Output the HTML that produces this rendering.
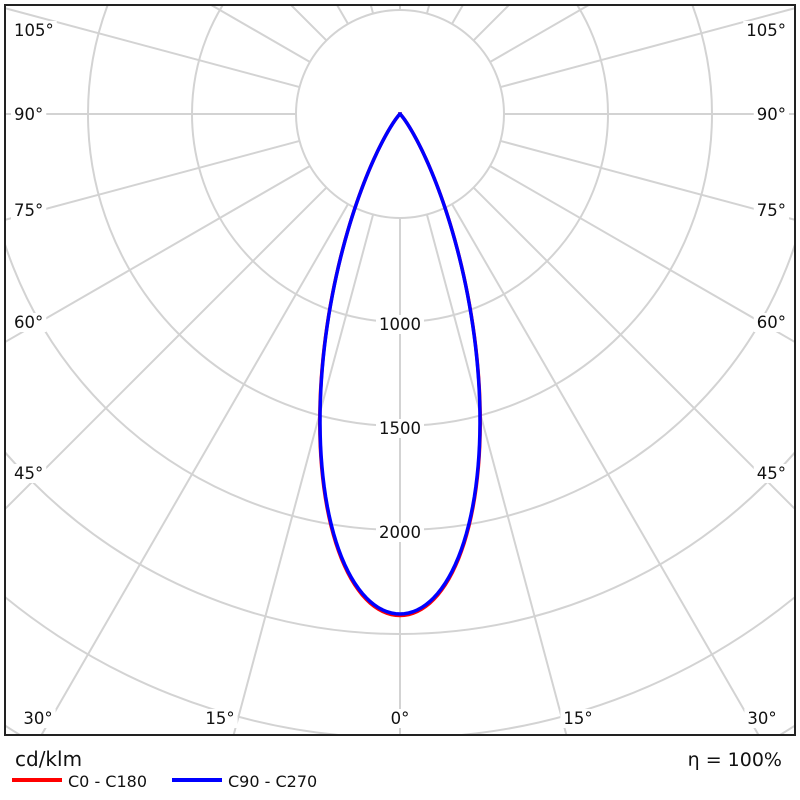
<!DOCTYPE html>
<html><head><meta charset="utf-8"><style>
html,body{margin:0;padding:0;background:#fff;width:800px;height:800px;overflow:hidden}
svg{display:block}
svg text{font-family:"DejaVu Sans","Liberation Sans",sans-serif;}
</style></head><body>
<svg id="s" width="800" height="800" xmlns="http://www.w3.org/2000/svg">
<defs><clipPath id="c"><rect x="6" y="6" width="788" height="728"/></clipPath></defs>
<g id="grid" clip-path="url(#c)" stroke="#d3d3d3" stroke-width="2" fill="none"></g>
<g id="curves" clip-path="url(#c)" fill="none" stroke-width="3.5"></g>
<g id="labels" font-size="16.5" fill="#111"></g>
<rect x="5" y="5" width="790" height="730" fill="none" stroke="#222" stroke-width="2"/>
<text x="15" y="766" font-size="20" fill="#111">cd/klm</text>
<line x1="12" y1="780" x2="62" y2="780" stroke="#f00" stroke-width="4"/>
<text x="68" y="787" font-size="16" fill="#111">C0 - C180</text>
<line x1="172" y1="780" x2="222" y2="780" stroke="#00f" stroke-width="4"/>
<text x="228" y="787" font-size="16" fill="#111">C90 - C270</text>
<text x="782" y="766" font-size="19" fill="#111" text-anchor="end">η = 100%</text>
</svg>
<script>
var NS="http://www.w3.org/2000/svg",cx=400,cy=114,u=104;
function el(p,t,a){var e=document.createElementNS(NS,t);for(var k in a)e.setAttribute(k,a[k]);p.appendChild(e);return e;}
var g=document.getElementById('grid');
for(var i=1;i<=8;i++)el(g,'circle',{cx:cx,cy:cy,r:u*i});
for(var a=-180;a<=180;a+=15){var t=a*Math.PI/180;
 el(g,'line',{x1:cx+u*Math.sin(t),y1:cy+u*Math.cos(t),x2:cx+1200*Math.sin(t),y2:cy+1200*Math.cos(t)});}
function rr(th){var c=Math.cos(th*Math.PI/180);var n=12.1+0.12*th;return 500*Math.pow(c,n);}
function path(s){var d="";for(var th=-90;th<=90;th+=0.5){var R=rr(Math.abs(th))*s;var t=th*Math.PI/180;d+=(d?"L":"M")+(cx+R*Math.sin(t)).toFixed(2)+","+(cy+R*Math.cos(t)).toFixed(2);}return d;}
var cg=document.getElementById('curves');
el(cg,'path',{d:path(1.003),stroke:'#f00'});
el(cg,'path',{d:path(1),stroke:'#00f'});
var L=document.getElementById('labels');
function lab(x,y,s,anc){var t=el(L,'text',{x:x,y:y,'text-anchor':anc||'start'});t.textContent=s;
 var b=t.getBBox();var r=document.createElementNS(NS,'rect');r.setAttribute('x',b.x-3);r.setAttribute('y',b.y);r.setAttribute('width',b.width+6);r.setAttribute('height',b.height);r.setAttribute('fill','#fff');L.insertBefore(r,t);}
var D=[["105°",36],["90°",120],["75°",216],["60°",328],["45°",479]];
D.forEach(function(d){lab(14,d[1],d[0]);lab(786,d[1],d[0],'end');});
lab(38,724,"30°",'middle');lab(762,724,"30°",'middle');
lab(220,724,"15°",'middle');lab(578,724,"15°",'middle');
lab(400,724,"0°",'middle');
lab(400,330,"1000",'middle');lab(400,434,"1500",'middle');lab(400,538,"2000",'middle');
</script>
</body></html>
